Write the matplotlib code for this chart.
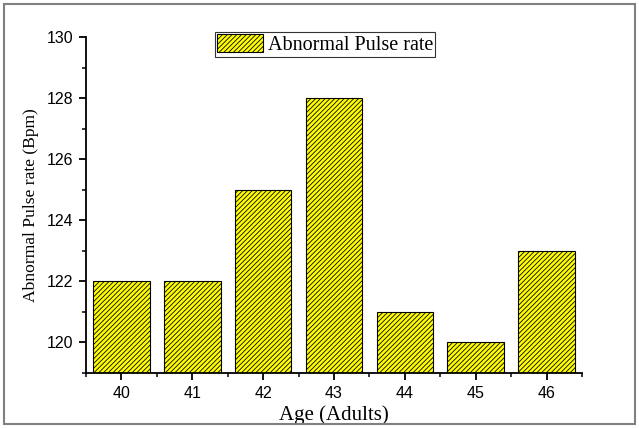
import matplotlib.pyplot as plt
from matplotlib.ticker import MultipleLocator, FixedLocator
from matplotlib.patches import Rectangle

# age groups and their abnormal pulse rates
ages = [40, 41, 42, 43, 44, 45, 46]
pulse = [122, 122, 125, 128, 121, 120, 123]
series_name = 'Abnormal Pulse rate'

plt.rcParams['hatch.linewidth'] = 0.6

fig = plt.figure(figsize=(6.39, 4.28), dpi=100)
ax = fig.add_axes([0.1346, 0.1285, 0.7762, 0.7851])

ax.bar(ages, pulse, width=0.8, color='#ffff00', edgecolor='black',
       hatch='///////', linewidth=0.8, label=series_name)

ax.set_xlim(39.5, 46.5)
ax.set_ylim(119, 130)
ax.set_xticks(ages)
ax.xaxis.set_minor_locator(FixedLocator([a + 0.5 for a in ages[:-1]] + [39.5, 46.5]))
ax.yaxis.set_major_locator(MultipleLocator(2))
ax.yaxis.set_minor_locator(MultipleLocator(1))

for s in ['top', 'right']:
    ax.spines[s].set_visible(False)
for s in ['left', 'bottom']:
    ax.spines[s].set_linewidth(1.3)

ax.tick_params(which='major', direction='out', length=5, width=1.3,
               labelsize=11.5, pad=4)
ax.tick_params(which='minor', direction='out', length=3, width=1.1)
for lbl in ax.get_xticklabels() + ax.get_yticklabels():
    lbl.set_family('Liberation Sans')

ax.set_ylabel('Abnormal Pulse rate (Bpm)', family='Liberation Serif',
              fontsize=12.6, labelpad=6)
ax.set_xlabel('Age (Adults)', family='Liberation Serif', fontsize=15,
              labelpad=3.5)

leg = ax.legend(loc='upper center', bbox_to_anchor=(0.482, 1.015),
                prop={'family': 'Liberation Serif', 'size': 14.5},
                frameon=True, fancybox=False, handlelength=2.3,
                handleheight=1.0, handletextpad=0.25, borderpad=0.1,
                borderaxespad=0)
leg.get_frame().set_edgecolor('black')
leg.get_frame().set_linewidth(0.8)

# grey frame around the whole figure
fig.patches.append(Rectangle((0.006, 0.009), 0.988, 0.982, transform=fig.transFigure,
                             fill=False, edgecolor='#808080', linewidth=1.5))

fig.savefig('out.png', dpi=100)
